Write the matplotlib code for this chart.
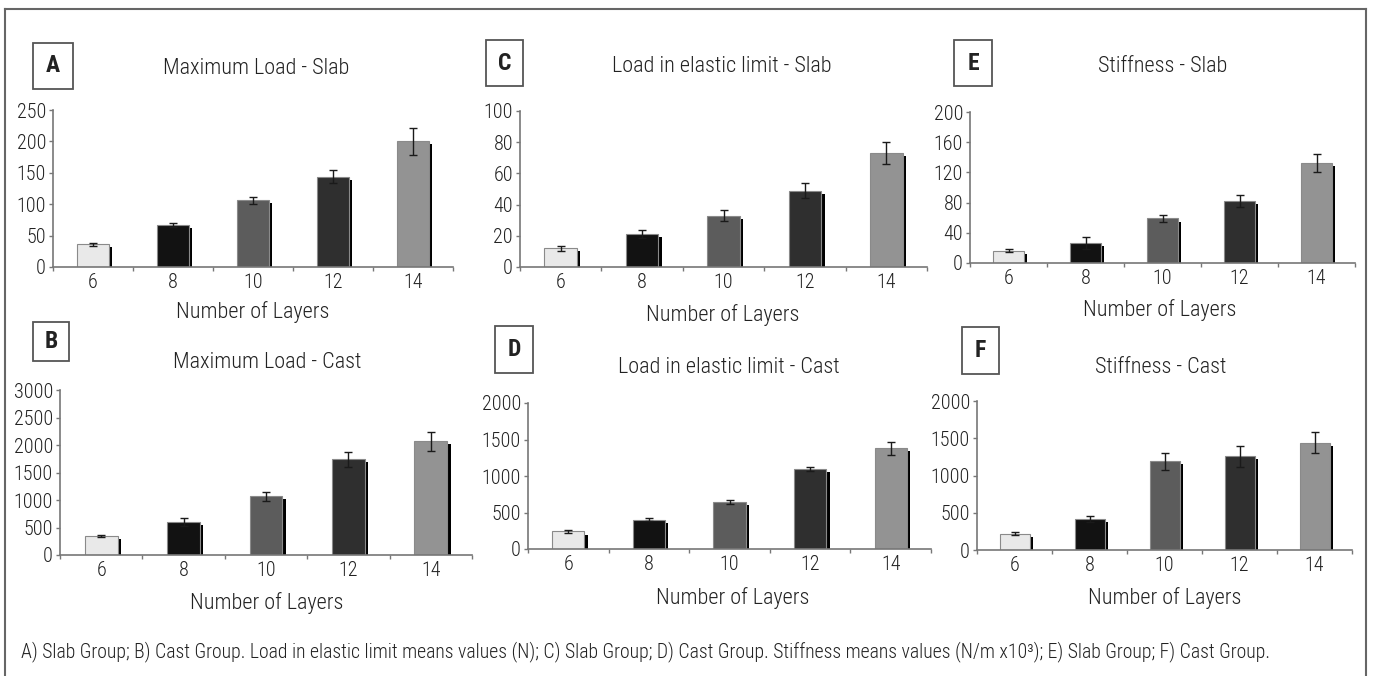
"""Six bar panels: mechanical tests of slab vs cast groups by number of layers."""

import matplotlib

matplotlib.use("Agg")

import matplotlib.pyplot as plt
import matplotlib.patheffects as pe
from matplotlib.lines import Line2D
from matplotlib.patches import Rectangle
import numpy as np

plt.rcParams["font.family"] = ["Roboto Condensed", "Liberation Sans", "DejaVu Sans"]
plt.rcParams["font.weight"] = "light"

W, H = 1373, 676

layers = ["6", "8", "10", "12", "14"]
bar_colors = ["#e9e9e9", "#121212", "#5c5c5c", "#2f2f2f", "#939393"]

max_load_slab = [36, 67, 106, 144, 200]
max_load_slab_err = [2, 3, 6, 10, 21]
max_load_cast = [340, 600, 1070, 1740, 2070]
max_load_cast_err = [20, 75, 80, 140, 170]
elastic_slab = [12, 21, 33, 49, 73]
elastic_slab_err = [1.5, 2.5, 3.5, 5, 7]
elastic_cast = [240, 400, 640, 1100, 1380]
elastic_cast_err = [25, 20, 25, 25, 90]
stiff_slab = [16, 27, 59, 82, 133]
stiff_slab_err = [2, 8, 5, 8, 12]
stiff_cast = [220, 420, 1190, 1260, 1440]
stiff_cast_err = [25, 40, 115, 140, 140]

caption = ("A) Slab Group; B) Cast Group. Load in elastic limit means values (N); C) Slab Group; "
           "D) Cast Group. Stiffness means values (N/m x10\u00b3); E) Slab Group; F) Cast Group.")

# (letter, title, values, errors, ymax, ystep, axes px box, letter box px, title xy, xlabel xy)
panels = [
    ("A", "Maximum Load - Slab", max_load_slab, max_load_slab_err, 250, 50,
     (53, 110, 453, 267), (33, 43, 73, 89), (256, 68), (253, 312)),
    ("B", "Maximum Load - Cast", max_load_cast, max_load_cast_err, 3000, 500,
     (60, 390, 472, 555), (33, 322, 69, 361), (267, 363), (267, 603)),
    ("C", "Load in elastic limit - Slab", elastic_slab, elastic_slab_err, 100, 20,
     (520, 111, 927, 267), (486, 40, 523, 86), (722, 66), (723, 315)),
    ("D", "Load in elastic limit - Cast", elastic_cast, elastic_cast_err, 2000, 500,
     (528, 403, 931, 549), (495, 326, 533, 373), (729, 367), (733, 598)),
    ("E", "Stiffness - Slab", stiff_slab, stiff_slab_err, 200, 40,
     (970, 112, 1355, 263), (954, 40, 992, 86), (1163, 66), (1160, 310)),
    ("F", "Stiffness - Cast", stiff_cast, stiff_cast_err, 2000, 500,
     (977, 401, 1352, 550), (962, 327, 999, 374), (1161, 367), (1165, 598)),
]


def fx(px):
    return px / W


def fy(py):
    return 1 - py / H


fig = plt.figure(figsize=(W / 100, H / 100), dpi=100)

axis_gray = "#777777"
text_color = "#222222"
shadow = [pe.SimplePatchShadow(offset=(2.4, -2.2), shadow_rgbFace="black", alpha=1.0), pe.Normal()]

for letter, title, values, errors, ymax, ystep, box, lbox, txy, lxy in panels:
    x0, y0, x1, y1 = box
    ax = fig.add_axes([fx(x0), fy(y1), fx(x1 - x0), (y1 - y0) / H])
    pos = np.arange(len(layers))
    bars = ax.bar(pos, values, width=0.4, color=bar_colors, edgecolor="#8a8a8a", linewidth=0.8, zorder=2)
    for bar in bars:
        bar.set_path_effects(shadow)
    ax.errorbar(pos, values, yerr=errors, fmt="none", ecolor="#1a1a1a", elinewidth=1.0,
                capsize=3, capthick=1.0, zorder=3)

    ax.set_xlim(-0.5, len(layers) - 0.5)
    ax.set_ylim(0, ymax)
    ax.set_yticks(np.arange(0, ymax + ystep / 2, ystep))
    ax.set_xticks(pos)
    ax.set_xticklabels(layers)
    ax.set_xticks(np.arange(-0.5, len(layers)), minor=True)
    ax.tick_params(axis="x", which="major", length=0, labelsize=14.5, pad=4, colors=text_color)
    ax.tick_params(axis="x", which="minor", length=3, width=1, color=axis_gray)
    ax.tick_params(axis="y", length=3, width=1, color=axis_gray, labelsize=14.5, pad=2, labelcolor=text_color)
    for side in ("top", "right"):
        ax.spines[side].set_visible(False)
    for side in ("left", "bottom"):
        ax.spines[side].set_color(axis_gray)
        ax.spines[side].set_linewidth(1.2)

    bx0, by0, bx1, by1 = lbox
    fig.add_artist(Rectangle((fx(bx0), fy(by1)), fx(bx1 - bx0), (by1 - by0) / H,
                             transform=fig.transFigure, facecolor="white", edgecolor="#555555", linewidth=1.3))
    fig.text(fx((bx0 + bx1) / 2), fy((by0 + by1) / 2), letter, ha="center", va="center",
             fontsize=17, fontweight="bold", color=text_color)
    fig.text(fx(txy[0]), fy(txy[1]), title, ha="center", va="center", fontsize=16, color=text_color)
    fig.text(fx(lxy[0]), fy(lxy[1]), "Number of Layers", ha="center", va="center", fontsize=16, color=text_color)

fig.text(fx(21), fy(652), caption, ha="left", va="center", fontsize=14.2, color=text_color)

frame_kw = dict(transform=fig.transFigure, color="#666666", linewidth=1.5)
fig.add_artist(Line2D([fx(5), fx(5)], [fy(9), 0], **frame_kw))
fig.add_artist(Line2D([fx(5), fx(1366)], [fy(9), fy(9)], **frame_kw))
fig.add_artist(Line2D([fx(1366), fx(1366)], [fy(9), 0], **frame_kw))

fig.savefig("out.png", dpi=100, facecolor="white")
